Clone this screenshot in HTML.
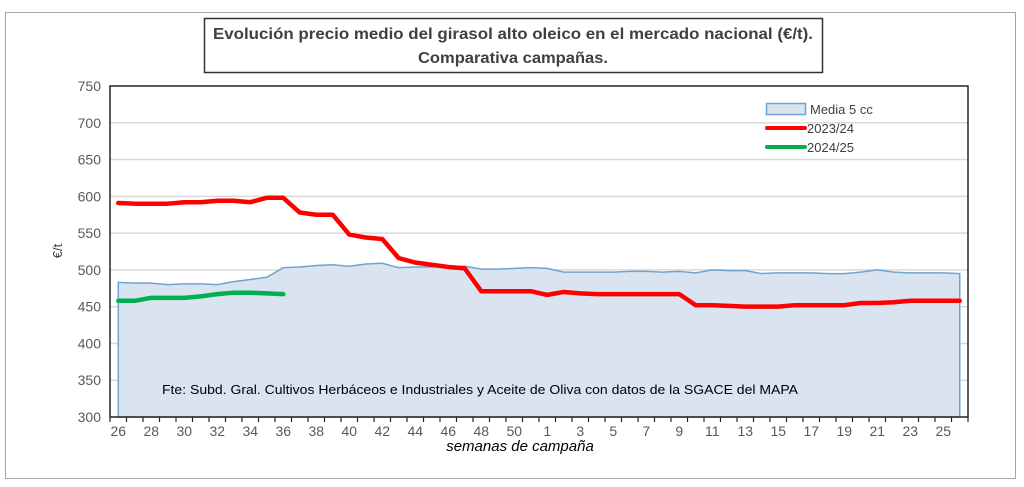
<!DOCTYPE html>
<html><head><meta charset="utf-8"><style>
html,body{margin:0;padding:0;background:#fff;}
svg{display:block;font-family:"Liberation Sans",sans-serif;}
</style></head><body>
<svg id="chart" width="1024" height="487" viewBox="0 0 1024 487">
<rect x="5.5" y="12.5" width="1010" height="466" fill="#fff" stroke="#a6a6a6"/>
<rect x="204.5" y="18.5" width="618" height="54" fill="#fff" stroke="#333" stroke-width="1.5"/>
<text x="513" y="39" text-anchor="middle" font-size="16" font-weight="bold" fill="#404040" textLength="600" lengthAdjust="spacingAndGlyphs">Evolución precio medio del girasol alto oleico en el mercado nacional (€/t).</text>
<text x="513" y="63" text-anchor="middle" font-size="16" font-weight="bold" fill="#404040" textLength="190" lengthAdjust="spacingAndGlyphs">Comparativa campañas.</text>
<g id="grid"></g>
<g id="series"></g>
<rect x="110" y="86" width="858" height="331" fill="none" stroke="#262626" stroke-width="1.5"/>
<g id="axes"></g>
<text x="0" y="0" transform="translate(62,251) rotate(-90)" text-anchor="middle" font-size="13" fill="#404040">€/t</text>
<text x="520" y="451" text-anchor="middle" font-size="15" font-style="italic" fill="#000">semanas de campaña</text>
<text x="162" y="394" font-size="13" fill="#000" textLength="636" lengthAdjust="spacingAndGlyphs">Fte: Subd. Gral. Cultivos Herbáceos e Industriales y Aceite de Oliva con datos de la SGACE del MAPA</text>
<g>
<rect x="766.5" y="103.5" width="39" height="11" fill="#dae4f1" stroke="#6fa4d1" stroke-width="1.5"/>
<text x="810" y="114" font-size="13" fill="#404040">Media 5 cc</text>
<line x1="767" y1="128" x2="805" y2="128" stroke="#ff0000" stroke-width="4" stroke-linecap="round"/>
<text x="807" y="133" font-size="13" fill="#404040">2023/24</text>
<line x1="767" y1="147" x2="805" y2="147" stroke="#00b050" stroke-width="4" stroke-linecap="round"/>
<text x="807" y="152" font-size="13" fill="#404040">2024/25</text>
</g>
</svg>
<script>
const weeks = [26,27,28,29,30,31,32,33,34,35,36,37,38,39,40,41,42,43,44,45,46,47,48,49,50,51,1,2,3,4,5,6,7,8,9,10,11,12,13,14,15,16,17,18,19,20,21,22,23,24,25,26];
const media5 = [483,482,482,480,481,481,480,484,487,490,503,504,506,507,505,508,509,503,504,504,505,505,501,501,502,503,502,497,497,497,497,498,498,497,498,496,500,499,499,495,496,496,496,495,495,497,500,497,496,496,496,495];
const s2324 = [591,590,590,590,592,592,594,594,592,598,598,578,575,575,548,544,542,516,510,507,504,502,471,471,471,471,466,470,468,467,467,467,467,467,467,452,452,451,450,450,450,452,452,452,452,455,455,456,458,458,458,458];
const s2425 = [458,458,462,462,462,464,467,469,469,468,467];
const yTicks = [300,350,400,450,500,550,600,650,700,750];
const NS="http://www.w3.org/2000/svg";
const L=110,R=968,T=86,B=417,ymin=300,ymax=750;
const band=(R-L)/weeks.length;
const xs=i=>L+band*(i+0.5);
const ys=v=>B-(v-ymin)/(ymax-ymin)*(B-T);
function mk(tag,attrs,parent){const e=document.createElementNS(NS,tag);for(const k in attrs)e.setAttribute(k,attrs[k]);document.getElementById(parent).appendChild(e);return e;}
yTicks.forEach(t=>{
  if(t>ymin&&t<ymax){const g=mk('line',{x1:L,x2:R,y1:ys(t),y2:ys(t),stroke:'#d9d9d9','stroke-width':1.5},'grid');
  
  }
  const tx=mk('text',{x:L-9,y:ys(t)+5,'text-anchor':'end','font-size':14,fill:'#595959'},'axes');
  tx.textContent=t;
  
  
});
let d='M'+xs(0)+','+B;
media5.forEach((v,i)=>d+=' L'+xs(i)+','+ys(v));
d+=' L'+xs(media5.length-1)+','+B+' Z';
const area=mk('path',{d:d,fill:'#dae4f1',stroke:'#6fa4d1','stroke-width':1.5},'series');


function line(arr,color,name){
  const p=mk('polyline',{points:arr.map((v,i)=>xs(i)+','+ys(v)).join(' '),fill:'none',stroke:color,'stroke-width':4.5,'stroke-linejoin':'round','stroke-linecap':'round'},'series');
  
  
}
line(s2324,'#ff0000','line-2023-24');
line(s2425,'#00b050','line-2024-25');
for(let i=0;i<=weeks.length;i++){
  const x=L+band*i;
  const tk=mk('line',{x1:x,x2:x,y1:B,y2:B+5,stroke:'#262626','stroke-width':1.2},'axes');
  
  
}
weeks.forEach((w,i)=>{
  if(i%2!==0)return;
  const tx=mk('text',{x:xs(i),y:B+19,'text-anchor':'middle','font-size':14,fill:'#595959'},'axes');
  tx.textContent=w;
  
  
});
</script>
</body></html>
